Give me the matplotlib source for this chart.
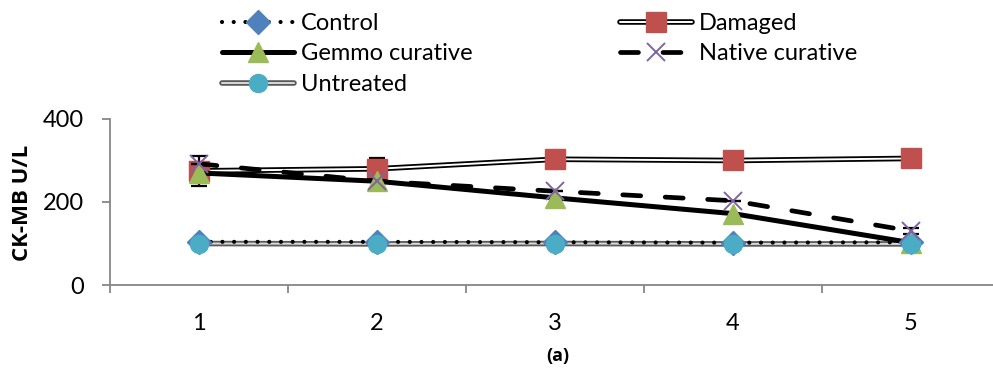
import matplotlib
matplotlib.use("Agg")
import matplotlib.pyplot as plt
import matplotlib.patheffects as pe
from matplotlib.legend_handler import HandlerTuple
import numpy as np

plt.rcParams['font.family'] = ['Lato', 'DejaVu Sans']

days = [1, 2, 3, 4, 5]
control = [104, 104, 103, 102, 103]
damaged = [275, 280, 303, 300, 305]
gemmo = [270, 250, 210, 172, 102]
native = [292, 250, 226, 203, 130]
untreated = [100, 99, 100, 99, 99]
damaged_err = [36, 26, 0, 0, 0]
native_err = [0, 0, 0, 0, 8]

W, H = 993, 371
fig = plt.figure(figsize=(W / 100, H / 100), dpi=100)
ax = fig.add_axes([110 / W, (H - 285) / H, 890 / W, 166 / H])

x = np.array(days)

# Untreated: gray double line + cyan circles
l_unt, = ax.plot(x, untreated, color='#D9D9D9', lw=1.4, solid_capstyle='round', zorder=2,
                 path_effects=[pe.Stroke(linewidth=4, foreground='#595959'), pe.Normal()])
m_unt, = ax.plot(x, untreated, linestyle='none', marker='o', ms=13,
                 color='#4BACC6', mec='#4BACC6', zorder=6)

# Control: dotted black + blue diamonds
l_ctrl, = ax.plot(x, control, color='black', lw=3, linestyle=(0, (0.01, 2.8)),
                  dash_capstyle='round', zorder=3)
m_ctrl, = ax.plot(x, control, linestyle='none', marker='D', ms=12,
                  color='#4F81BD', mec='#4F81BD', zorder=5)

# Damaged: double black line + red squares
l_dam, = ax.plot(x, damaged, color='white', lw=1.4, solid_capstyle='round', zorder=2,
                 path_effects=[pe.Stroke(linewidth=4, foreground='black'), pe.Normal()])
ax.errorbar(x, damaged, yerr=damaged_err, fmt='none', ecolor='black',
            elinewidth=1.6, capsize=6, capthick=1.6, zorder=2)
m_dam, = ax.plot(x, damaged, linestyle='none', marker='s', ms=14,
                 color='#C0504D', mec='#C0504D', zorder=3)

# Gemmo curative: thick solid + green triangles
l_gem, = ax.plot(x, gemmo, color='black', lw=3.6, solid_capstyle='round', zorder=4)
m_gem, = ax.plot(x, gemmo, linestyle='none', marker='^', ms=15,
                 color='#9BBB59', mec='#9BBB59', zorder=5)

# Native curative: thick dashed + purple x
l_nat, = ax.plot(x, native, color='black', lw=3.4, linestyle=(0, (3.8, 5.2)),
                 dash_capstyle='round', zorder=4)
ax.errorbar(x, native, yerr=native_err, fmt='none', ecolor='black',
            elinewidth=1.6, capsize=6, capthick=1.6, zorder=4)
m_nat, = ax.plot(x, native, linestyle='none', marker='x', ms=13, mew=1.4,
                 color='#8064A2', zorder=6)

ax.set_xlim(0.5, 5.5)
ax.set_ylim(0, 400)
ax.set_yticks([0, 200, 400])
ax.set_xticks(days)
ax.set_xticks(np.arange(0.5, 5.6, 1), minor=True)
ax.tick_params(axis='x', which='major', length=0, pad=20, labelsize=17)
ax.tick_params(axis='x', which='minor', length=6, width=1.3, color='#868686')
ax.tick_params(axis='y', length=6, width=1.3, color='#868686', pad=13, labelsize=17)
for s in ['top', 'right']:
    ax.spines[s].set_visible(False)
for s in ['left', 'bottom']:
    ax.spines[s].set_color('#868686')
    ax.spines[s].set_linewidth(1.3)

bold = ['Open Sans', 'DejaVu Sans']
fig.text(23 / W, 1 - 203 / H, 'CK-MB U/L', rotation=90, ha='center', va='center',
         fontsize=16, fontweight='bold', family=bold)
fig.text(558 / W, 1 - 356 / H, '(a)', ha='center', va='center', fontsize=13,
         fontweight='bold', family=bold)

kw = dict(loc='upper left', frameon=False, fontsize=17, borderpad=0,
          borderaxespad=0, handlelength=3.05, handletextpad=0.3, labelspacing=0.4,
          handler_map={tuple: HandlerTuple(ndivide=1, pad=0)})
fig.legend([(l_ctrl, m_ctrl), (l_gem, m_gem), (l_unt, m_unt)],
           ['Control', 'Gemmo curative', 'Untreated'],
           bbox_to_anchor=(222 / W, 1 - 13 / H), **kw)
fig.legend([(l_dam, m_dam), (l_nat, m_nat)],
           ['Damaged', 'Native curative'],
           bbox_to_anchor=(620 / W, 1 - 13 / H), **kw)

fig.savefig('out.png', dpi=100)
